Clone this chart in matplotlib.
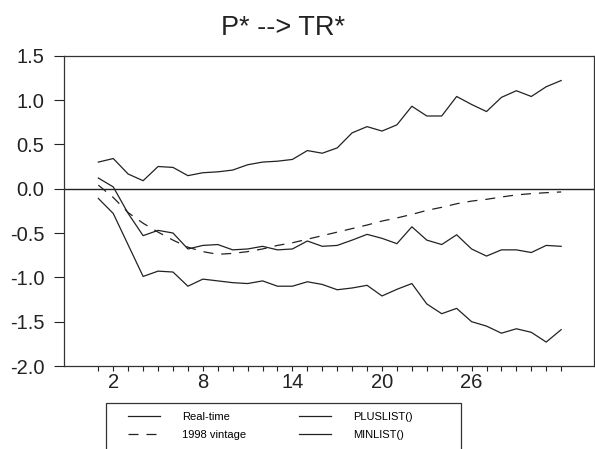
import matplotlib.pyplot as plt
from matplotlib.patches import Rectangle

plt.rcParams['font.family'] = ['Liberation Sans', 'DejaVu Sans']

# horizon (quarters)
steps = list(range(1, 33))

# series
real_time = [0.12, 0.02, -0.28, -0.53, -0.47, -0.50, -0.68, -0.64, -0.63, -0.69,
             -0.68, -0.65, -0.69, -0.68, -0.59, -0.65, -0.64, -0.58, -0.515, -0.56,
             -0.62, -0.43, -0.58, -0.63, -0.52, -0.68, -0.76, -0.69, -0.69, -0.72,
             -0.64, -0.65]
vintage_1998 = [0.04, -0.10, -0.27, -0.39, -0.49, -0.58, -0.66, -0.71, -0.74, -0.73,
                -0.71, -0.68, -0.64, -0.61, -0.57, -0.53, -0.49, -0.45, -0.41, -0.365,
                -0.33, -0.29, -0.245, -0.21, -0.17, -0.14, -0.12, -0.094, -0.07, -0.056,
                -0.045, -0.037]
pluslist = [0.30, 0.34, 0.165, 0.09, 0.25, 0.24, 0.147, 0.18, 0.19, 0.21,
            0.27, 0.30, 0.31, 0.33, 0.43, 0.40, 0.46, 0.63, 0.70, 0.65,
            0.72, 0.93, 0.82, 0.82, 1.04, 0.95, 0.87, 1.03, 1.105, 1.04,
            1.15, 1.22]
minlist = [-0.11, -0.28, -0.635, -0.99, -0.93, -0.94, -1.10, -1.02, -1.04, -1.06,
           -1.07, -1.04, -1.10, -1.10, -1.05, -1.08, -1.14, -1.12, -1.09, -1.21,
           -1.135, -1.07, -1.30, -1.41, -1.35, -1.50, -1.55, -1.63, -1.58, -1.62,
           -1.73, -1.59]

labelled_steps = [2, 8, 14, 20, 26]
y_ticks = [-2.0, -1.5, -1.0, -0.5, 0.0, 0.5, 1.0, 1.5]

W, H = 595, 449
fig = plt.figure(figsize=(W / 100, H / 100), dpi=100)
ax = fig.add_axes([64 / W, 1 - 366 / H, 530 / W, 310.3 / H])

ink = '#222222'
lw = 0.9
ax.axhline(0, color=ink, lw=1.0)
l1, = ax.plot(steps, real_time, color=ink, lw=lw)
l2, = ax.plot(steps, vintage_1998, color=ink, lw=lw, dashes=(8.0, 6.4))
l3, = ax.plot(steps, pluslist, color=ink, lw=lw)
l4, = ax.plot(steps, minlist, color=ink, lw=lw)

ax.set_xlim(-1.3, 34.2)
ax.set_ylim(-2.0, 1.5)
ax.set_xticks(steps)
ax.set_xticklabels([str(s) if s in labelled_steps else '' for s in steps])
ax.set_yticks(y_ticks)
ax.set_yticklabels([f'{v:.1f}' for v in y_ticks])
ax.tick_params(axis='x', direction='out', length=3.6, width=0.8, pad=1.5,
               labelsize=14.5, colors=ink)
ax.tick_params(axis='y', direction='out', length=7.2, width=0.8, pad=7,
               labelsize=14.5, colors=ink)
for sp in ax.spines.values():
    sp.set_color('#333333')
    sp.set_linewidth(0.9)

fig.text(283 / W, 1 - 35 / H, 'P* --> TR*', ha='center', va='baseline',
         fontsize=19.5, color=ink)

# legend frame (runs off the bottom of the figure, as in the reference)
fig.patches.append(Rectangle((106 / W, -0.05), 355 / W, 1 - 403 / H + 0.05,
                             transform=fig.transFigure, fill=False,
                             edgecolor='#333333', lw=0.9))
fig.legend([l1, l2, l3, l4], ['Real-time', '1998 vintage', 'PLUSLIST()', 'MINLIST()'],
           ncol=2, loc='upper left', bbox_to_anchor=(128 / W, 1 - 412 / H),
           frameon=False, fontsize=8, handlelength=2.9, handletextpad=2.0,
           columnspacing=4.7, labelspacing=0.7, borderpad=0, borderaxespad=0)

fig.savefig('out.png', dpi=100)
